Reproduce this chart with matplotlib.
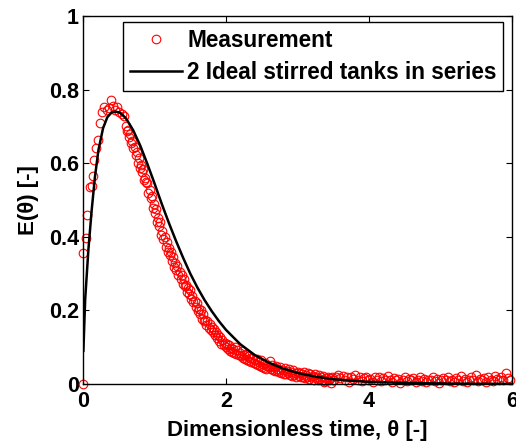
import numpy as np
import matplotlib
matplotlib.use("Agg")
import matplotlib.pyplot as plt

plt.rcParams['font.family'] = ['Liberation Sans', 'DejaVu Sans']
plt.rcParams['font.weight'] = 'bold'

# Measurement: rising part (explicit readings)
theta_rise = [0.0, 0.005, 0.042, 0.06, 0.095, 0.12, 0.135, 0.153, 0.18, 0.21,
              0.237, 0.265, 0.30, 0.33, 0.36, 0.395, 0.42, 0.45, 0.475, 0.51,
              0.54, 0.57]
E_rise = [0.0, 0.356, 0.397, 0.46, 0.536, 0.538, 0.565, 0.609, 0.64, 0.663,
          0.71, 0.74, 0.754, 0.745, 0.75, 0.772, 0.755, 0.745, 0.754, 0.738,
          0.733, 0.728]

# Measurement: decay part, sampled every 0.015 from 0.600 to 3.495
E_decay = [
    0.70, 0.688, 0.69, 0.672, 0.678, 0.655, 0.66, 0.64, 0.645, 0.622,
    0.63, 0.60, 0.615, 0.588, 0.595, 0.575, 0.585, 0.555, 0.56, 0.548,
    0.545, 0.52, 0.528, 0.505, 0.51, 0.478, 0.49, 0.465, 0.475, 0.44,
    0.45, 0.43, 0.44, 0.405, 0.415, 0.395, 0.40, 0.372, 0.385, 0.36,
    0.37, 0.35, 0.36, 0.335, 0.345, 0.318, 0.33, 0.31, 0.322, 0.296,
    0.305, 0.285, 0.295, 0.272, 0.285, 0.265, 0.27, 0.25, 0.262, 0.245,
    0.255, 0.232, 0.24, 0.222, 0.225, 0.21, 0.22, 0.198, 0.205, 0.19,
    0.20, 0.178, 0.19, 0.172, 0.175, 0.16, 0.172, 0.152, 0.162, 0.148,
    0.155, 0.14, 0.15, 0.132, 0.14, 0.125, 0.132, 0.118, 0.128, 0.11,
    0.12, 0.105, 0.112, 0.10, 0.11, 0.096, 0.105, 0.09, 0.098, 0.088,
    0.094, 0.085, 0.10, 0.082, 0.092, 0.078, 0.085, 0.075, 0.09, 0.07,
    0.08, 0.068, 0.082, 0.064, 0.076, 0.062, 0.07, 0.06, 0.072, 0.058,
    0.065, 0.055, 0.068, 0.052, 0.06, 0.048, 0.064, 0.046, 0.055, 0.044,
    0.058, 0.042, 0.05, 0.045, 0.062, 0.04, 0.052, 0.038, 0.047, 0.036,
    0.05, 0.035, 0.042, 0.032, 0.046, 0.03, 0.038, 0.028, 0.044, 0.026,
    0.036, 0.03, 0.04, 0.025, 0.033, 0.022, 0.037, 0.024, 0.03, 0.02,
    0.034, 0.022, 0.03, 0.018, 0.028, 0.02, 0.032, 0.016, 0.025, 0.018,
    0.03, 0.014, 0.027, 0.02, 0.022, 0.012, 0.028, 0.016, 0.02, 0.01,
    0.024, 0.014, 0.018, 0.01, 0.022, 0.006, 0.008, 0.016, 0.02, 0.01,
    0.015, 0.004, 0.018, 0.012,
]
theta_decay = np.linspace(0.600, 3.495, len(E_decay))

# Measurement: tail, sampled every 0.03 from 3.51 to 5.97
E_tail = [
    0.012, 0.02, 0.025,
    0.015, 0.022, 0.01, 0.018, 0.006, 0.02, 0.014, 0.024, 0.012, 0.018,
    0.008, 0.016, 0.02, 0.01, 0.014, 0.005, 0.018, 0.012, 0.02, 0.008,
    0.015, 0.01, 0.022, 0.012, 0.006, 0.016, 0.01, 0.014, 0.004, 0.012,
    0.018, 0.008, 0.013, 0.01, 0.016, 0.006, 0.012, 0.02, 0.009, 0.014,
    0.006, 0.012, 0.01, 0.018, 0.008, 0.014, 0.004, 0.012, 0.016, 0.01,
    0.02, 0.008, 0.012, 0.006, 0.015, 0.01, 0.022, 0.008, 0.013, 0.006,
    0.012, 0.018, 0.01, 0.024, 0.008, 0.014, 0.01, 0.016, 0.006, 0.02,
    0.012, 0.008, 0.022, 0.014, 0.01, 0.018, 0.012, 0.03, 0.016, 0.012,
]
theta_tail = np.linspace(3.51, 5.97, len(E_tail))

# Model curve: 2 ideal stirred tanks in series
theta_model = [0.005, 0.03, 0.075, 0.12, 0.165, 0.215, 0.28, 0.34, 0.40, 0.46,
               0.52, 0.60, 0.70, 0.80, 0.90, 1.00, 1.10, 1.20, 1.30, 1.40,
               1.50, 1.60, 1.70, 1.80, 1.90, 2.00, 2.20, 2.40, 2.60, 2.80,
               3.00, 3.25, 3.50, 3.75, 4.00, 4.50, 5.00, 5.50, 6.00]
E_model = [0.09, 0.23, 0.365, 0.47, 0.56, 0.635, 0.695, 0.725, 0.738, 0.74,
           0.737, 0.722, 0.69, 0.648, 0.598, 0.545, 0.49, 0.438, 0.389, 0.343,
           0.30, 0.262, 0.228, 0.198, 0.171, 0.147, 0.108, 0.079, 0.058, 0.042,
           0.030, 0.020, 0.013, 0.009, 0.006, 0.003, 0.0015, 0.0007, 0.0003]

theta_meas = np.concatenate([theta_rise, theta_decay, theta_tail])
E_meas = np.concatenate([E_rise, E_decay, E_tail])

fig = plt.figure(figsize=(5.16, 4.44), dpi=100)
ax = fig.add_axes([0.1609, 0.1351, 0.8314, 0.8289])

ax.plot(theta_meas, E_meas, 'o', mfc='none', mec='red', ms=6.2, mew=0.8,
        label='Measurement', clip_on=False, zorder=2)
ax.plot(theta_model, E_model, '-', color='black', lw=1.8,
        label='2 Ideal stirred tanks in series', zorder=3)

ax.set_xlim(0, 6)
ax.set_ylim(0, 1)
ax.set_xticks([0, 2, 4, 6])
ax.set_yticks([0, 0.2, 0.4, 0.6, 0.8, 1])
ax.set_yticklabels(['0', '0.2', '0.4', '0.6', '0.8', '1'])
ax.tick_params(direction='in', length=4, width=0.8, top=True, right=True,
               labelsize=15.5, pad=3)
ax.tick_params(axis='x', pad=5)
for lab in ax.get_xticklabels() + ax.get_yticklabels():
    lab.set_fontweight('bold')
for s in ax.spines.values():
    s.set_linewidth(1.0)

ax.set_xlabel('Dimensionless time, θ [-]', fontsize=16, fontweight='bold', labelpad=6)
ax.set_ylabel('E(θ) [-]', fontsize=16, fontweight='bold', labelpad=7)

leg = ax.legend(loc='upper right', bbox_to_anchor=(0.98, 0.984), fontsize=16.3,
                frameon=True, fancybox=False, edgecolor='black', framealpha=1,
                handlelength=2.3, handletextpad=0.25, borderpad=0.3,
                labelspacing=0.4, borderaxespad=0.0)
leg.get_frame().set_linewidth(1.0)
for t in leg.get_texts():
    t.set_fontweight('bold')

fig.savefig('out.png', dpi=100)
